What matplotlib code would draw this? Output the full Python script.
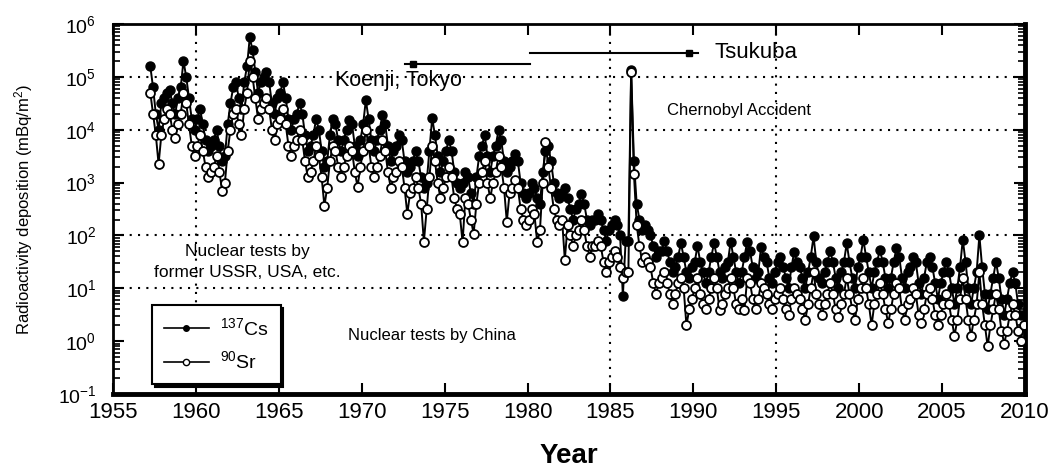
import numpy as np
import matplotlib.pyplot as plt
from matplotlib.lines import Line2D

plt.rcParams['font.family'] = ['Liberation Sans', 'DejaVu Sans']
plt.rcParams['mathtext.fontset'] = 'custom'
plt.rcParams['mathtext.rm'] = 'Liberation Sans'
plt.rcParams['mathtext.it'] = 'Liberation Sans:italic'
plt.rcParams['mathtext.bf'] = 'Liberation Sans:bold'

# log10 of deposition (mBq/m2), six values per year (bi-monthly)
# first row of the 1950s starts in spring 1957
cs_1950s = [
    [5.2, 4.8, 4.3, 4.0, 4.5],
    [4.6, 4.7, 4.75, 4.5, 4.3, 4.6],
    [4.8, 5.3, 5.0, 4.6, 4.2, 4.0],
]
cs_1960s = [
    [4.2, 4.4, 4.1, 3.8, 3.6, 3.7],
    [3.8, 4.0, 3.7, 3.4, 3.5, 4.1],
    [4.5, 4.8, 4.9, 4.6, 4.4, 4.9],
    [5.2, 5.75, 5.5, 5.1, 4.7, 4.9],
    [5.0, 5.1, 4.9, 4.5, 4.3, 4.6],
    [4.7, 4.9, 4.6, 4.2, 4.0, 4.2],
    [4.3, 4.5, 4.3, 3.9, 3.6, 3.7],
    [3.9, 4.2, 4.0, 3.6, 3.3, 3.4],
    [3.9, 4.2, 4.1, 3.8, 3.6, 3.8],
    [4.0, 4.18, 4.1, 3.7, 3.5, 3.8],
]
cs_1970s = [
    [4.1, 4.56, 4.2, 3.8, 3.6, 3.8],
    [4.0, 4.28, 4.1, 3.7, 3.4, 3.6],
    [3.7, 3.9, 3.8, 3.4, 3.2, 3.3],
    [3.4, 3.6, 3.4, 3.1, 2.9, 3.0],
    [3.6, 4.22, 3.9, 3.5, 3.2, 3.4],
    [3.6, 3.8, 3.6, 3.2, 3.0, 2.9],
    [3.0, 3.2, 3.1, 2.8, 2.6, 3.1],
    [3.5, 3.7, 3.9, 3.5, 3.2, 3.5],
    [3.7, 3.99, 3.8, 3.4, 3.2, 3.3],
    [3.4, 3.55, 3.4, 3.0, 2.8, 2.7],
]
cs_1980s = [
    [2.8, 3.0, 2.9, 2.7, 2.6, 3.2],
    [3.6, 3.7, 3.4, 3.0, 2.8, 2.7],
    [2.8, 2.9, 2.7, 2.5, 2.3, 2.5],
    [2.6, 2.78, 2.6, 2.3, 2.2, 2.3],
    [2.3, 2.4, 2.3, 2.1, 1.9, 2.1],
    [2.2, 2.3, 2.2, 2.0, 0.85, 1.9],
    [1.9, 5.13, 3.4, 2.6, 2.3, 2.1],
    [2.2, 2.1, 2.0, 1.8, 1.6, 1.7],
    [1.7, 1.9, 1.7, 1.5, 1.3, 1.4],
    [1.6, 1.85, 1.6, 1.3, 1.2, 1.4],
]
cs_1990s = [
    [1.5, 1.8, 1.5, 1.3, 1.1, 1.3],
    [1.6, 1.85, 1.6, 1.3, 1.2, 1.4],
    [1.5, 1.88, 1.6, 1.3, 1.1, 1.3],
    [1.6, 1.88, 1.7, 1.4, 1.2, 1.3],
    [1.78, 1.6, 1.5, 1.2, 1.1, 1.3],
    [1.5, 1.6, 1.4, 1.2, 1.0, 1.4],
    [1.69, 1.5, 1.4, 1.2, 1.0, 1.3],
    [1.6, 1.98, 1.5, 1.2, 1.1, 1.3],
    [1.5, 1.7, 1.5, 1.2, 1.0, 1.3],
    [1.5, 1.85, 1.5, 1.2, 1.0, 1.4],
]
cs_2000s = [
    [1.6, 1.92, 1.6, 1.3, 1.0, 1.3],
    [1.5, 1.73, 1.5, 1.2, 1.0, 1.2],
    [1.5, 1.76, 1.6, 1.2, 1.0, 1.3],
    [1.4, 1.6, 1.5, 1.1, 0.9, 1.2],
    [1.5, 1.6, 1.4, 1.1, 0.8, 1.1],
    [1.3, 1.5, 1.3, 1.0, 0.7, 1.0],
    [1.4, 1.92, 1.5, 1.0, 0.7, 1.0],
    [1.3, 2.0, 1.4, 0.9, 0.6, 0.9],
    [1.2, 1.5, 1.2, 0.8, 0.5, 0.8],
    [1.1, 1.3, 1.1, 0.7, 0.5, 0.5],
]

sr_1950s = [
    [4.7, 4.3, 3.9, 3.35, 3.9],
    [4.2, 4.4, 4.3, 4.0, 3.85, 4.1],
    [4.3, 4.7, 4.5, 4.1, 3.7, 3.5],
]
sr_1960s = [
    [3.7, 3.9, 3.6, 3.3, 3.1, 3.2],
    [3.3, 3.5, 3.2, 2.85, 3.0, 3.6],
    [4.0, 4.3, 4.4, 4.1, 3.9, 4.4],
    [4.7, 5.3, 5.0, 4.6, 4.2, 4.4],
    [4.5, 4.6, 4.4, 4.0, 3.8, 4.1],
    [4.2, 4.4, 4.1, 3.7, 3.5, 3.7],
    [3.8, 4.0, 3.8, 3.4, 3.1, 3.2],
    [3.4, 3.7, 3.5, 3.1, 2.56, 2.9],
    [3.4, 3.7, 3.6, 3.3, 3.11, 3.3],
    [3.5, 3.7, 3.6, 3.2, 2.92, 3.3],
]
sr_1970s = [
    [3.6, 4.0, 3.7, 3.3, 3.1, 3.3],
    [3.5, 3.8, 3.6, 3.2, 2.9, 3.1],
    [3.2, 3.4, 3.3, 2.9, 2.41, 2.8],
    [2.9, 3.1, 2.9, 2.6, 1.88, 2.5],
    [3.1, 3.7, 3.4, 3.0, 2.7, 2.9],
    [3.1, 3.3, 3.1, 2.7, 2.5, 2.4],
    [1.87, 2.7, 2.6, 2.3, 2.03, 2.6],
    [3.0, 3.2, 3.4, 3.0, 2.7, 3.0],
    [3.2, 3.5, 3.3, 2.9, 2.26, 2.8],
    [2.9, 3.05, 2.9, 2.5, 2.3, 2.2],
]
sr_1980s = [
    [2.3, 2.5, 2.4, 1.87, 2.1, 3.0],
    [3.77, 3.3, 2.9, 2.5, 2.3, 2.2],
    [2.3, 1.54, 2.2, 2.0, 1.8, 2.0],
    [2.1, 2.3, 2.1, 1.8, 1.6, 1.8],
    [1.8, 1.9, 1.8, 1.5, 1.3, 1.5],
    [1.6, 1.7, 1.6, 1.4, 1.2, 1.3],
    [1.3, 5.1, 3.17, 2.2, 1.8, 1.5],
    [1.6, 1.5, 1.4, 1.1, 0.9, 1.1],
    [1.2, 1.3, 1.1, 0.9, 0.7, 0.9],
    [1.1, 1.2, 1.0, 0.3, 0.6, 0.8],
]
sr_1990s = [
    [1.0, 1.2, 0.9, 0.7, 0.6, 0.8],
    [1.0, 1.2, 1.0, 0.59, 0.7, 0.9],
    [1.0, 1.2, 1.0, 0.7, 0.6, 0.8],
    [0.59, 1.2, 1.1, 0.8, 0.6, 0.8],
    [1.1, 1.0, 0.9, 0.7, 0.6, 0.8],
    [0.9, 1.0, 0.8, 0.6, 0.5, 0.8],
    [1.0, 0.9, 0.8, 0.6, 0.40, 0.7],
    [1.0, 1.3, 0.9, 0.7, 0.5, 0.7],
    [0.9, 1.1, 0.9, 0.6, 0.45, 0.7],
    [0.9, 1.2, 0.9, 0.6, 0.4, 0.8],
]
sr_2000s = [
    [1.0, 1.2, 1.0, 0.7, 0.3, 0.7],
    [0.9, 1.1, 0.9, 0.6, 0.35, 0.6],
    [0.9, 1.1, 1.0, 0.6, 0.4, 0.7],
    [0.8, 1.0, 0.9, 0.5, 0.35, 0.6],
    [0.9, 1.0, 0.8, 0.5, 0.3, 0.5],
    [0.7, 0.9, 0.7, 0.4, 0.1, 0.4],
    [0.8, 1.2, 0.8, 0.4, 0.1, 0.4],
    [0.7, 1.3, 0.7, 0.3, -0.1, 0.3],
    [0.6, 0.9, 0.6, 0.2, -0.05, 0.2],
    [0.5, 0.7, 0.5, 0.2, 0.0, 0.3],
]


def series(first_year, decades):
    t, v = [], []
    year = first_year
    for dec in decades:
        for row in dec:
            off = 6 - len(row)
            for k, val in enumerate(row):
                t.append(year + (k + off + 0.5) / 6.0)
                v.append(10 ** val)
            year += 1
    return np.array(t), np.array(v)


t_cs, cs = series(1957, [cs_1950s, cs_1960s, cs_1970s, cs_1980s, cs_1990s, cs_2000s])
t_sr, sr = series(1957, [sr_1950s, sr_1960s, sr_1970s, sr_1980s, sr_1990s, sr_2000s])

fig = plt.figure(figsize=(10.52, 4.70), dpi=100)
ax = fig.add_axes([0.1074, 0.1617, 0.8669, 0.7872])

ax.plot(t_cs, cs, '-', color='k', lw=1.4, marker='o', ms=6.5, mfc='k', mec='k', zorder=3)
ax.plot(t_sr, sr, '-', color='k', lw=1.4, marker='o', ms=6.4, mfc='white', mec='k', mew=1.3, zorder=4)

ax.set_yscale('log')
ax.set_xlim(1955, 2010)
ax.set_ylim(1e-1, 1e6)
ax.set_xticks(np.arange(1955, 2011, 5))
ax.tick_params(axis='both', which='both', direction='in', top=True, right=True)
ax.tick_params(axis='x', which='major', length=8, width=1.5, labelsize=16, pad=6)
ax.tick_params(axis='y', which='major', length=8, width=1.5, labelsize=14, pad=12)
ax.tick_params(axis='y', which='minor', length=5, width=1.2)
ax.tick_params(axis='x', which='minor', bottom=False, top=False)

for side, w in [('left', 2), ('top', 2), ('right', 3.5), ('bottom', 3.5)]:
    ax.spines[side].set_linewidth(w)

# dotted reference lines
dot = dict(color='k', lw=1.5, ls=(0, (1, 3)), zorder=1)
for yv in [1e5, 1e4, 1e2]:
    ax.axhline(yv, **dot)
ax.axhline(10, xmin=0, xmax=30 / 55, **dot)
for xv in [1960, 1985, 1995]:
    ax.axvline(xv, **dot)

# station periods
ax.plot([1980.15, 1990.3], [10 ** 5.457] * 2, color='k', lw=1.5)
ax.plot([1989.74], [10 ** 5.457], 's', color='k', ms=4)
ax.plot([1972.6, 1980.15], [10 ** 5.238] * 2, color='k', lw=1.5)
ax.plot([1973.12], [10 ** 5.238], 's', color='k', ms=4)
ax.text(1991.3, 10 ** 5.46, 'Tsukuba', fontsize=16, ha='left', va='center')
ax.text(1968.4, 10 ** 4.94, 'Koenji, Tokyo', fontsize=15.5, ha='left', va='center')
ax.text(1988.4, 10 ** 4.37, 'Chernobyl Accident', fontsize=12, ha='left', va='center')
ax.text(1963.08, 10 ** 1.687, 'Nuclear tests by', fontsize=12.5, ha='center', va='center')
ax.text(1963.08, 10 ** 1.29, 'former USSR, USA, etc.', fontsize=12.5, ha='center', va='center')
ax.text(1969.17, 10 ** 0.098, 'Nuclear tests by China', fontsize=12, ha='left', va='center')

ax.set_xlabel('Year', fontsize=20, fontweight='bold', labelpad=14)
ax.set_ylabel('Radioactivity deposition (mBq/m$^2$)', fontsize=12, labelpad=16)

handles = [
    Line2D([], [], color='k', lw=1.2, marker='o', ms=4, mfc='k', mec='k'),
    Line2D([], [], color='k', lw=1.2, marker='o', ms=4.5, mfc='white', mec='k'),
]
leg = ax.legend(handles, ['$^{137}$Cs', '$^{90}$Sr'], loc='lower left',
                bbox_to_anchor=(0.043, 0.027), borderaxespad=0, fontsize=14,
                frameon=True, fancybox=False, shadow={'color': 'k', 'alpha': 1},
                edgecolor='k', handlelength=2.3, borderpad=0.6, labelspacing=0.6,
                handletextpad=0.6)
leg.get_frame().set_linewidth(1.5)
leg.set_zorder(10)

fig.savefig('out.png', dpi=100)
